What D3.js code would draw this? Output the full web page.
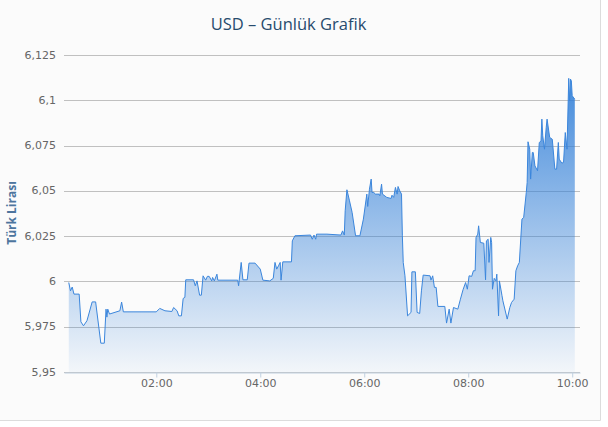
<!DOCTYPE html>
<html>
<head>
<meta charset="utf-8">
<script src="https://cdn.jsdelivr.net/npm/d3@7"></script>
<style>
  body { margin: 0; background: #fff; }
  .vis-areachart text { font-family: "DejaVu Sans", sans-serif; }
</style>
</head>
<body>
<div class="vis-areachart"></div>
<script>
const chartTitle = "USD – Günlük Grafik";
const yTitle = "Türk Lirası";

// saat (HH:MM) ve kur degerleri
const times = [
  "00:19","00:21","00:23","00:25","00:31","00:33","00:36","00:40","00:46","00:50",
  "00:56","01:00","01:02","01:03","01:04","01:06","01:18","01:20","01:22","02:00",
  "02:04","02:10","02:18","02:20","02:24","02:26","02:29","02:31","02:33","02:34",
  "02:43","02:45","02:47","02:50","02:52","02:54","02:57","02:59","03:01","03:04",
  "03:05","03:07","03:10","03:11","03:34","03:35","03:38","03:40","03:45","03:47",
  "03:54","04:00","04:03","04:11","04:15","04:17","04:19","04:21","04:23","04:24",
  "04:26","04:36","04:37","04:40","04:58","05:00","05:02","05:04","05:05","05:17",
  "05:33","05:35","05:37","05:38","05:40","05:43","05:46","05:50","05:55","05:59",
  "06:03","06:04","06:06","06:08","06:09","06:11","06:13","06:17","06:18","06:20",
  "06:21","06:26","06:31","06:32","06:34","06:36","06:38","06:39","06:41","06:43",
  "06:44","06:45","06:47","06:50","06:54","06:55","06:59","07:01","07:04","07:06",
  "07:08","07:16","07:17","07:19","07:21","07:23","07:25","07:33","07:35","07:38",
  "07:40","07:43","07:48","07:51","07:54","07:57","07:59","08:01","08:04","08:06",
  "08:08","08:09","08:11","08:12","08:14","08:18","08:20","08:21","08:23","08:24",
  "08:26","08:27","08:28","08:30","08:32","08:33","08:35","08:36","08:39","08:40",
  "08:45","08:48","08:50","08:53","08:55","08:57","08:59","09:02","09:04","09:07",
  "09:08","09:09","09:11","09:12","09:14","09:15","09:17","09:20","09:22","09:24",
  "09:25","09:26","09:28","09:30","09:31","09:34","09:37","09:40","09:42","09:44",
  "09:45","09:48","09:50","09:52","09:54","09:56","09:57","09:58","09:59","10:00",
  "10:03"
];
const rates = [
  5.9994,5.9948,5.9969,5.9930,5.9930,5.9777,5.9755,5.9783,5.9887,5.9887,
  5.9659,5.9659,5.9847,5.9803,5.9847,5.9820,5.9838,5.9886,5.9832,5.9832,
  5.9851,5.9838,5.9834,5.9856,5.9838,5.9810,5.9810,5.9906,5.9912,6.0009,
  6.0009,5.9976,6.0003,5.9924,5.9924,6.0031,6.0007,6.0028,6.0028,6.0003,
  6.0022,6.0003,6.0040,6.0007,6.0007,5.9976,6.0105,6.0009,6.0009,6.0101,
  6.0101,6.0068,6.0007,6.0003,6.0017,6.0105,6.0068,6.0086,6.0105,6.0007,
  6.0108,6.0108,6.0224,6.0252,6.0256,6.0233,6.0256,6.0233,6.0261,6.0261,
  6.0256,6.0279,6.0256,6.0390,6.0506,6.0445,6.0381,6.0252,6.0252,6.0344,
  6.0482,6.0414,6.0509,6.0565,6.0491,6.0491,6.0482,6.0482,6.0473,6.0537,
  6.0482,6.0464,6.0458,6.0476,6.0464,6.0519,6.0482,6.0524,6.0500,6.0482,
  6.0252,6.0105,6.0031,5.9810,5.9829,6.0053,6.0053,5.9829,5.9823,5.9948,
  6.0035,6.0031,6.0007,6.0031,5.9967,5.9967,5.9862,5.9862,5.9770,5.9847,
  5.9770,5.9856,5.9847,5.9902,5.9954,5.9994,5.9957,6.0031,6.0028,6.0059,
  6.0059,6.0243,6.0261,6.0307,6.0215,6.0211,6.0009,6.0224,6.0233,6.0105,
  6.0243,6.0215,5.9957,6.0017,6.0003,6.0040,5.9810,6.0003,5.9921,5.9893,
  5.9792,5.9856,5.9884,5.9902,6.0059,6.0086,6.0105,6.0344,6.0353,6.0491,
  6.0546,6.0771,6.0730,6.0565,6.0712,6.0712,6.0638,6.0611,6.0767,6.0776,
  6.0896,6.0804,6.0730,6.0850,6.0896,6.0795,6.0785,6.0620,6.0620,6.0767,
  6.0675,6.0653,6.0657,6.0822,6.0730,6.1121,6.0997,6.1117,6.1107,6.1025,
  6.1006
];
const yTicks = [5.95, 5.975, 6, 6.025, 6.05, 6.075, 6.1, 6.125];
const xDomain = ["00:13:30", "10:09:00"];

const draw = () => {
  const W = 608, H = 427;
  let margin = { top: 55, right: 28, bottom: 55, left: 64 };
  const width = 580 - margin.left;
  const height = 372 - margin.top;

  const parseTime = d3.timeParse("%H:%M");
  const parseFull = d3.timeParse("%H:%M:%S");
  const tr = d3.formatLocale({ decimal: ",", thousands: ".", grouping: [3], currency: ["", "TL"] });
  const fmt = tr.format(".4~f");

  let data = times.map(function (t, i) {
    return { date: parseTime(t), rate: rates[i] };
  });

  let svg0 = d3
    .select(".vis-areachart")
    .append("svg")
    .attr("width", W)
    .attr("height", H);

  // kutu
  svg0.append("rect").attr("width", 600).attr("height", 420).attr("fill", "#fbfbfb");
  svg0.append("line").attr("x1", 600.5).attr("x2", 600.5).attr("y1", 0).attr("y2", 420.5)
    .attr("stroke", "#dcdcdc");
  svg0.append("line").attr("x1", 0).attr("x2", 600.5).attr("y1", 420.5).attr("y2", 420.5)
    .attr("stroke", "#dcdcdc");

  svg0
    .append("text")
    .attr("x", 288.5)
    .attr("y", 30)
    .style("text-anchor", "middle")
    .style("font-family", "'Open Sans', sans-serif")
    .style("font-size", "16.5px")
    .attr("fill", "#274b6d")
    .text(chartTitle);

  svg0
    .append("text")
    .attr("transform", "translate(16,213) rotate(-90)")
    .style("text-anchor", "middle")
    .style("font-family", "'Open Sans', sans-serif")
    .style("font-weight", "bold")
    .style("font-size", "12px")
    .attr("fill", "#4d759e")
    .text(yTitle);

  let svg = svg0
    .append("g")
    .attr("transform", "translate(" + margin.left + "," + margin.top + ")");

  let x = d3
    .scaleTime()
    .domain(xDomain.map(parseFull))
    .range([0, width]);

  var y = d3.scaleLinear().domain([yTicks[0], yTicks[yTicks.length - 1]]).range([height, 0]);

  // grid
  svg
    .append("g")
    .selectAll("line")
    .data(yTicks)
    .enter()
    .append("line")
    .attr("x1", 0)
    .attr("x2", width)
    .attr("y1", function (d) { return Math.round(y(d)) + 0.5; })
    .attr("y2", function (d) { return Math.round(y(d)) + 0.5; })
    .attr("stroke", "#c0c0c0");

  svg
    .append("g")
    .selectAll("text")
    .data(yTicks)
    .enter()
    .append("text")
    .attr("x", -8)
    .attr("y", function (d) { return y(d); })
    .attr("dy", "0.33em")
    .style("text-anchor", "end")
    .style("font-size", "11px")
    .attr("fill", "#666")
    .text(function (d) { return fmt(d); });

  // area gradient
  let grad = svg0
    .append("defs")
    .append("linearGradient")
    .attr("id", "fillGrad")
    .attr("x1", 0).attr("y1", 0).attr("x2", 0).attr("y2", 1);
  grad.append("stop").attr("offset", "0%").attr("stop-color", "#2f7ed8").attr("stop-opacity", 0.9);
  grad.append("stop").attr("offset", "100%").attr("stop-color", "#2f7ed8").attr("stop-opacity", 0.04);

  svg
    .append("path")
    .datum(data)
    .attr("fill", "url(#fillGrad)")
    .attr(
      "d",
      d3
        .area()
        .x(function (d) { return x(d.date); })
        .y0(height)
        .y1(function (d) { return y(d.rate); })
    );

  svg
    .append("path")
    .datum(data)
    .attr("fill", "none")
    .attr("stroke", "#3b86dc")
    .attr("stroke-width", 1)
    .attr("stroke-linejoin", "round")
    .attr(
      "d",
      d3
        .line()
        .x(function (d) { return x(d.date); })
        .y(function (d) { return y(d.rate); })
    );

  // x ekseni
  let xAxis = svg
    .append("g")
    .attr("transform", "translate(0," + (Math.round(height) + 0.5) + ")")
    .call(
      d3
        .axisBottom(x)
        .ticks(d3.timeHour.every(2))
        .tickFormat(d3.timeFormat("%H:%M"))
        .tickSize(5)
        .tickSizeOuter(0)
    );
  xAxis.select(".domain").attr("stroke", "#c0d0e0");
  xAxis.selectAll(".tick line").attr("stroke", "#c0d0e0");
  xAxis
    .selectAll(".tick text")
    .attr("y", 14)
    .attr("dy", 0)
    .attr("fill", "#666")
    .style("font-size", "11px")
    .style("font-family", "'DejaVu Sans', sans-serif");
};

draw();
</script>
</body>
</html>
